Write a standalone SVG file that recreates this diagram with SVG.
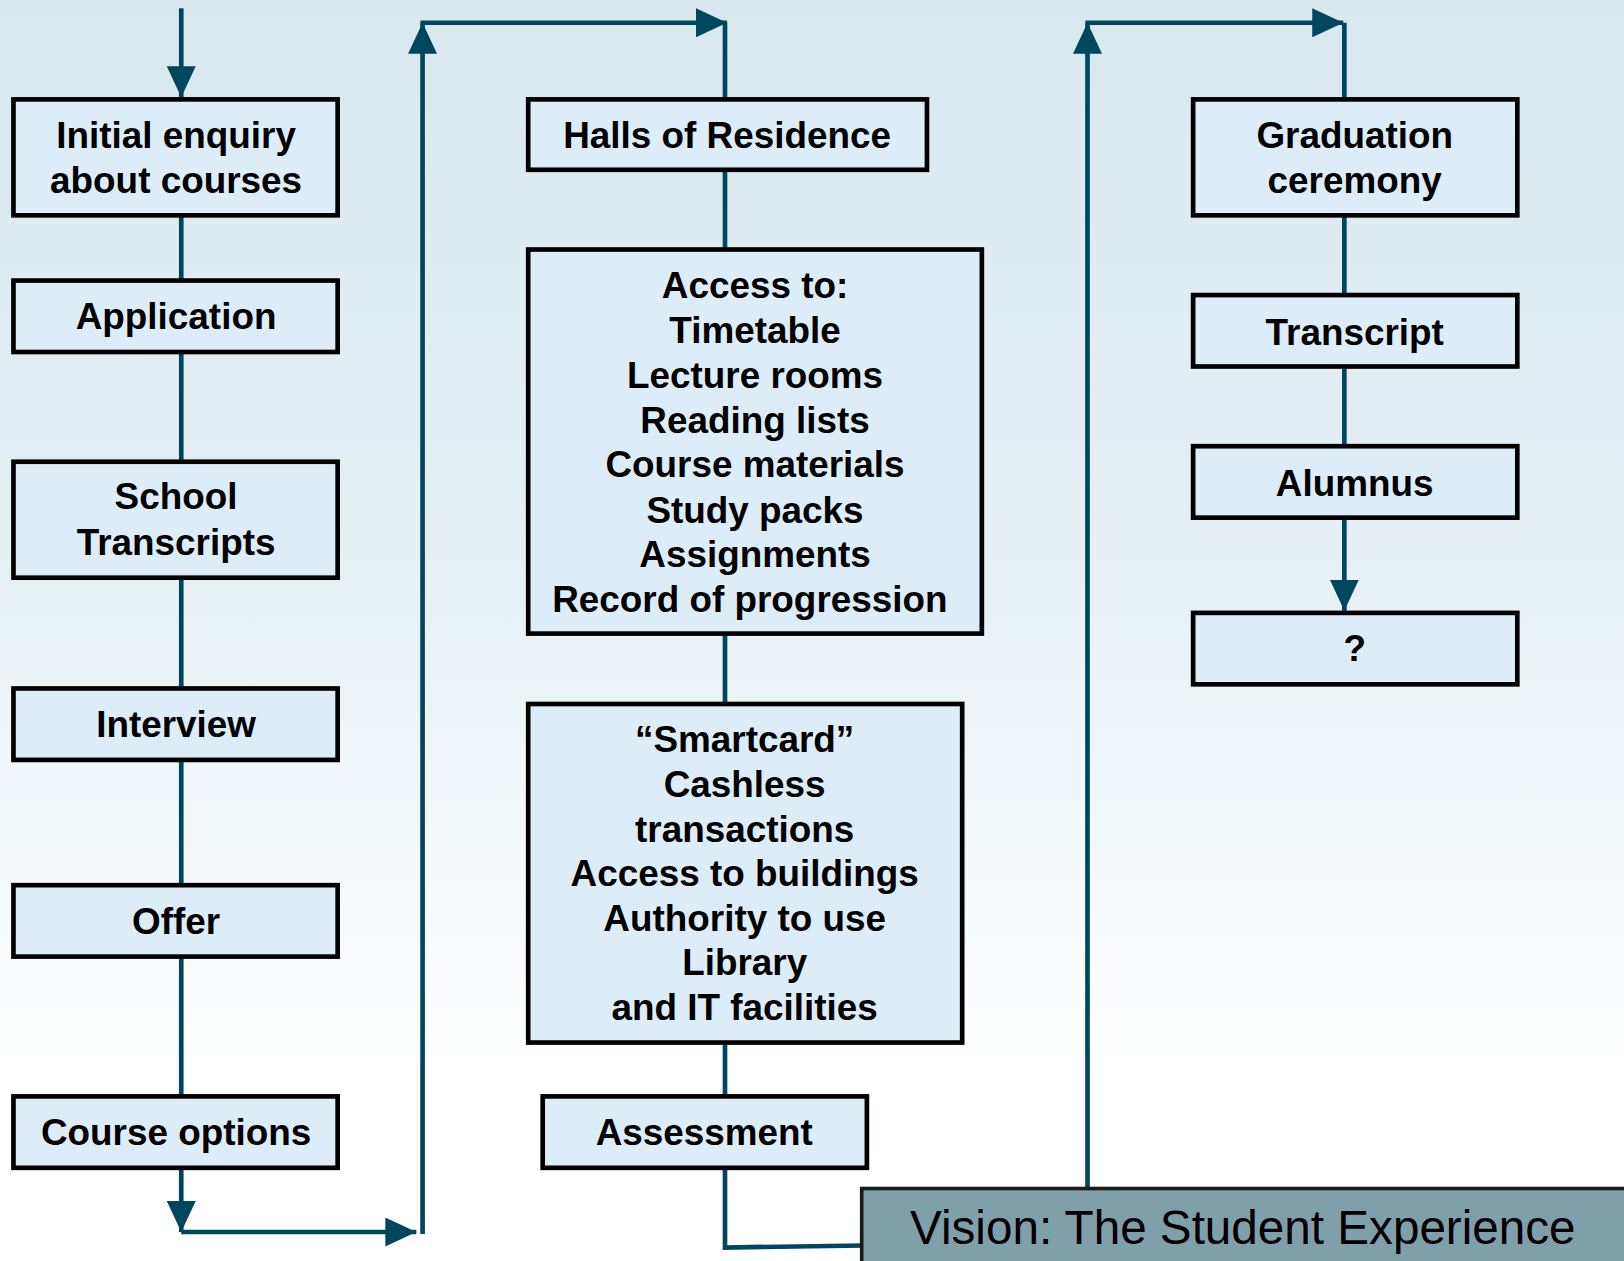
<svg xmlns="http://www.w3.org/2000/svg" width="1624" height="1261" viewBox="0 0 1624 1261">
<defs>
<linearGradient id="bg" x1="0" y1="0" x2="0" y2="1">
<stop offset="0" stop-color="#d8e8ef"/>
<stop offset="0.45" stop-color="#e6f0f5"/>
<stop offset="0.85" stop-color="#ffffff"/>
<stop offset="1" stop-color="#ffffff"/>
</linearGradient>
<marker id="ah" markerUnits="userSpaceOnUse" markerWidth="32" markerHeight="28" refX="30" refY="14" orient="auto">
<path d="M0,0 L30,14 L0,28 Z" fill="#00465c"/>
</marker>
<style>
.box{fill:#ddedf8;stroke:#000;stroke-width:4.5}
.t{font-family:"Liberation Sans",Arial,sans-serif;font-weight:bold;font-size:35.6px;fill:#000;text-anchor:middle}
.c{fill:none;stroke:#00465c;stroke-width:4.5}
</style>
</defs>
<rect width="1624" height="1261" fill="url(#bg)"/>
<g transform="scale(1.03571,1.0353)">
<g id="connectors">
<path class="c" d="M175,8 V94" marker-end="url(#ah)"/>
<path class="c" d="M175,208 V271 M175,340 V446 M175,558 V665 M175,734 V855 M175,924 V1059"/>
<path class="c" d="M175,1128 V1190" marker-end="url(#ah)"/>
<path class="c" d="M175,1190 H402" marker-end="url(#ah)"/>
<path class="c" d="M408,1192 V22" marker-end="url(#ah)"/>
<path class="c" d="M406,22 H702" marker-end="url(#ah)"/>
<path class="c" d="M700,22 V96 M700,164 V241 M700,612 V680 M700,1007 V1059 M700,1128 V1205 L834,1203"/>
<path class="c" d="M1050,1147 V22" marker-end="url(#ah)"/>
<path class="c" d="M1048,22 H1297" marker-end="url(#ah)"/>
<path class="c" d="M1298,22 V96 M1298,208 V285 M1298,354 V431"/>
<path class="c" d="M1298,500 V590" marker-end="url(#ah)"/>
</g>
<g id="n-initial"><rect class="box" x="13" y="96" width="313" height="112"/><text class="t" x="170" y="143">Initial enquiry</text><text class="t" x="170" y="186">about courses</text></g>
<g id="n-application"><rect class="box" x="13" y="271" width="313" height="69"/><text class="t" x="170" y="318">Application</text></g>
<g id="n-school"><rect class="box" x="13" y="446" width="313" height="112"/><text class="t" x="170" y="492">School</text><text class="t" x="170" y="536">Transcripts</text></g>
<g id="n-interview"><rect class="box" x="13" y="665" width="313" height="69"/><text class="t" x="170" y="712">Interview</text></g>
<g id="n-offer"><rect class="box" x="13" y="855" width="313" height="69"/><text class="t" x="170" y="902">Offer</text></g>
<g id="n-course"><rect class="box" x="13" y="1059" width="313" height="69"/><text class="t" x="170" y="1106">Course options</text></g>
<g id="n-halls"><rect class="box" x="510" y="96" width="385" height="68"/><text class="t" x="702" y="143">Halls of Residence</text></g>
<g id="n-access"><rect class="box" x="510" y="241" width="438" height="371"/>
<text class="t" x="729" y="288">Access to:</text>
<text class="t" x="729" y="331">Timetable</text>
<text class="t" x="729" y="375">Lecture rooms</text>
<text class="t" x="729" y="418">Reading lists</text>
<text class="t" x="729" y="461">Course materials</text>
<text class="t" x="729" y="505">Study packs</text>
<text class="t" x="729" y="548">Assignments</text>
<text class="t" x="724" y="591">Record of progression</text>
</g>
<g id="n-smartcard"><rect class="box" x="510" y="680" width="419" height="327"/>
<text class="t" x="719" y="726">“Smartcard”</text>
<text class="t" x="719" y="770">Cashless</text>
<text class="t" x="719" y="813">transactions</text>
<text class="t" x="719" y="856">Access to buildings</text>
<text class="t" x="719" y="899">Authority to use</text>
<text class="t" x="719" y="942">Library</text>
<text class="t" x="719" y="985">and IT facilities</text>
</g>
<g id="n-assessment"><rect class="box" x="524" y="1059" width="313" height="69"/><text class="t" x="680" y="1106">Assessment</text></g>
<g id="n-graduation"><rect class="box" x="1152" y="96" width="313" height="112"/><text class="t" x="1308" y="143">Graduation</text><text class="t" x="1308" y="186">ceremony</text></g>
<g id="n-transcript"><rect class="box" x="1152" y="285" width="313" height="69"/><text class="t" x="1308" y="333">Transcript</text></g>
<g id="n-alumnus"><rect class="box" x="1152" y="431" width="313" height="69"/><text class="t" x="1308" y="479">Alumnus</text></g>
<g id="n-unknown"><rect class="box" x="1152" y="592" width="313" height="69"/><text class="t" x="1308" y="638">?</text></g>
<g id="n-vision"><rect x="832" y="1148" width="745" height="80" fill="#7fa0a9" stroke="#1a1a1a" stroke-width="3.5"/><text x="1200" y="1202" font-family="'Liberation Sans',Arial,sans-serif" font-size="46" text-anchor="middle" fill="#000">Vision: The Student Experience</text></g>
</g>
</svg>
